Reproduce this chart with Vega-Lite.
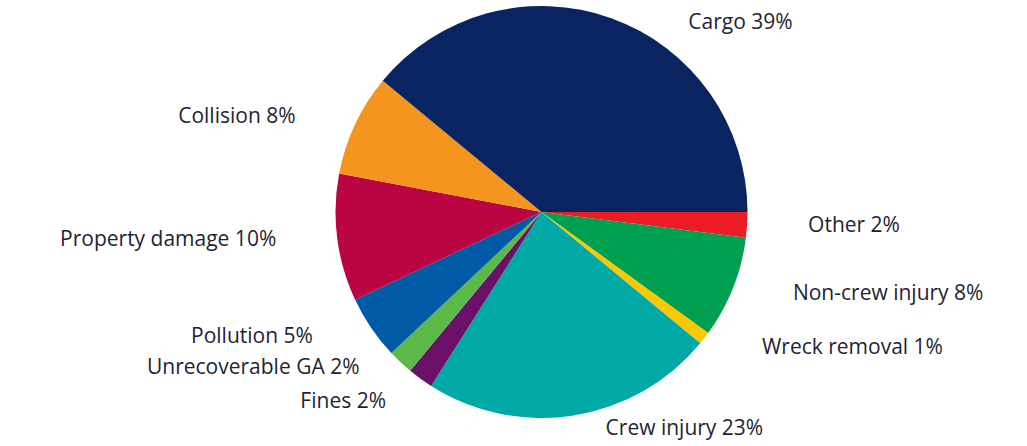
{
  "$schema": "https://vega.github.io/schema/vega-lite/v6.json",
  "autosize": {"type": "fit", "contains": "padding"},
  "width": 1027,
  "height": 446,
  "padding": {"left": 56, "right": 0, "top": 6, "bottom": 14},
  "background": "white",
  "config": {"view": {"stroke": null}, "text": {"font": "Open Sans", "fontSize": 21, "color": "#1f1f33"}},
  "data": {
    "values": [
      {"idx": 1, "cat": "Other", "value": 2, "label": "Other 2%"},
      {"idx": 2, "cat": "Non-crew injury", "value": 8, "label": "Non-crew injury 8%"},
      {"idx": 3, "cat": "Wreck removal", "value": 1, "label": "Wreck removal 1%"},
      {"idx": 4, "cat": "Crew injury", "value": 23, "label": "Crew injury 23%"},
      {"idx": 5, "cat": "Fines", "value": 2, "label": "Fines 2%"},
      {"idx": 6, "cat": "Unrecoverable GA", "value": 2, "label": "Unrecoverable GA 2%"},
      {"idx": 7, "cat": "Pollution", "value": 5, "label": "Pollution 5%"},
      {"idx": 8, "cat": "Property damage", "value": 10, "label": "Property damage 10%"},
      {"idx": 9, "cat": "Collision", "value": 8, "label": "Collision 8%"},
      {"idx": 10, "cat": "Cargo", "value": 39, "label": "Cargo 39%"}
    ]
  },
  "encoding": {
    "theta": {"field": "value", "type": "quantitative", "stack": true, "scale": {"range": [1.5708, 7.854]}},
    "order": {"field": "idx", "type": "quantitative"}
  },
  "layer": [
    {
      "mark": {"type": "arc", "outerRadius": 206},
      "encoding": {
        "color": {
          "field": "cat", "type": "nominal", "legend": null,
          "scale": {
            "domain": ["Other", "Non-crew injury", "Wreck removal", "Crew injury", "Fines", "Unrecoverable GA", "Pollution", "Property damage", "Collision", "Cargo"],
            "range": ["#ec1c24", "#00a050", "#fcc800", "#00a9a6", "#6a1068", "#5cb947", "#005aa6", "#bb0443", "#f3951f", "#0a2461"]
          }
        }
      }
    },
    {
      "mark": {"type": "text", "radius": 222, "align": "left", "baseline": "middle", "dx": 45},
      "encoding": {
        "text": {"condition": {"test": "indexof(['Other','Non-crew injury','Wreck removal'], datum.cat) >= 0", "field": "label"}, "value": ""}
      }
    },
    {
      "mark": {"type": "text", "radius": 222, "align": "right", "baseline": "middle", "dx": -45},
      "encoding": {
        "text": {"condition": {"test": "indexof(['Pollution','Property damage','Collision'], datum.cat) >= 0", "field": "label"}, "value": ""}
      }
    },
    {
      "mark": {"type": "text", "radius": 222, "align": "right", "baseline": "middle", "dx": -30, "dy": -6},
      "encoding": {
        "text": {"condition": {"test": "datum.cat === 'Unrecoverable GA'", "field": "label"}, "value": ""}
      }
    },
    {
      "mark": {"type": "text", "radius": 222, "align": "right", "baseline": "middle", "dx": -25, "dy": 10},
      "encoding": {
        "text": {"condition": {"test": "datum.cat === 'Fines'", "field": "label"}, "value": ""}
      }
    },
    {
      "mark": {"type": "text", "radius": 218, "align": "left", "baseline": "middle", "dx": 30, "dy": 2},
      "encoding": {
        "text": {"condition": {"test": "datum.cat === 'Crew injury'", "field": "label"}, "value": ""}
      }
    },
    {
      "mark": {"type": "text", "radius": 212, "align": "left", "baseline": "middle", "dx": 75, "dy": 10},
      "encoding": {
        "text": {"condition": {"test": "datum.cat === 'Cargo'", "field": "label"}, "value": ""}
      }
    }
  ]
}
